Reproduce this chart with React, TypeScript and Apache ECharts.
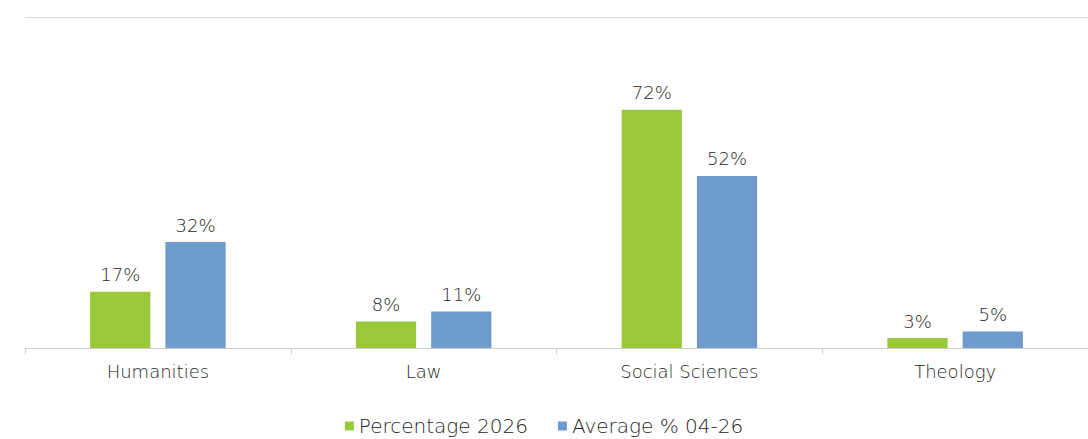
import React, { useEffect, useRef } from "react";
import * as echarts from "echarts";

const categories = ["Humanities", "Law", "Social Sciences", "Theology"];
const percentage2026 = [17, 8, 72, 3];
const average0426 = [32, 11, 52, 5];
const seriesNames = ["Percentage 2026", "Average % 04-26"];

const FONT = "'DejaVu Sans', sans-serif";
const TEXT = "#262626";

export default function App() {
  const ref = useRef<HTMLDivElement>(null);
  useEffect(() => {
    if (!ref.current) return;
    const chart = echarts.init(ref.current, undefined, { renderer: "svg" });
    const label = {
      show: true,
      position: "top",
      distance: 8,
      color: TEXT,
      fontFamily: FONT,
      fontSize: 18,
      fontWeight: 300,
      formatter: (p: any) => p.value + "%",
    };
    chart.setOption({
      animation: false,
      backgroundColor: "#ffffff",
      grid: { left: 25, right: 0, top: 17, bottom: 91, containLabel: false },
      legend: {
        bottom: -2,
        left: "center",
        itemWidth: 9,
        itemHeight: 9,
        itemGap: 30,
        icon: "rect",
        textStyle: { color: TEXT, fontFamily: FONT, fontSize: 20, fontWeight: 300, padding: [0, 0, 0, 0] },
        data: seriesNames,
      },
      xAxis: {
        type: "category",
        data: categories,
        axisLine: { show: true, lineStyle: { color: "#cfcfcf", width: 1 } },
        axisTick: { show: true, length: 6, lineStyle: { color: "#cfcfcf" } },
        axisLabel: { color: TEXT, fontFamily: FONT, fontSize: 18, fontWeight: 300, margin: 14 },
      },
      yAxis: {
        type: "value",
        min: 0,
        max: 100,
        interval: 100,
        axisLine: { show: false },
        axisTick: { show: false },
        axisLabel: { show: false },
        splitLine: { show: true, lineStyle: { color: "#d9d9d9", width: 1 } },
      },
      series: [
        {
          name: seriesNames[0],
          type: "bar",
          data: percentage2026,
          itemStyle: { color: "#9bc83a" },
          barGap: "25%",
          barCategoryGap: "49%",
          label,
        },
        {
          name: seriesNames[1],
          type: "bar",
          data: average0426,
          itemStyle: { color: "#6f9bcc" },
          barGap: "25%",
          barCategoryGap: "49%",
          label,
        },
      ],
    });
    return () => chart.dispose();
  }, []);
  return (
    <div
      ref={ref}
      style={{ position: "absolute", left: 0, top: 0, width: 1088, height: 439 }}
    />
  );
}
